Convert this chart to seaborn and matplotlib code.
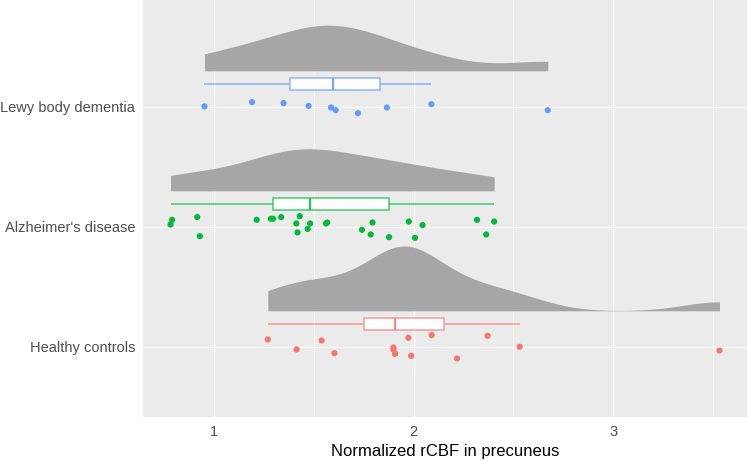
import numpy as np
import pandas as pd
import matplotlib.pyplot as plt
import seaborn as sns
from matplotlib.colors import to_rgba

# grupos y colores (orden de arriba hacia abajo)
groups = ["Lewy body dementia", "Alzheimer's disease", "Healthy controls"]
colors = ["#619CFF", "#00BA38", "#F8766D"]

# valores
lewy = [0.950, 1.189, 1.347, 1.472, 1.585, 1.608, 1.720, 1.865, 2.088, 2.672]
lewy_jit = [0.003, 0.039, 0.031, 0.008, -0.006, -0.028, -0.053, -0.006, 0.022, -0.028]

alz = [0.780, 0.788, 0.914, 0.927, 1.212, 1.283, 1.294, 1.335, 1.411, 1.417,
       1.428, 1.468, 1.480, 1.560, 1.566, 1.740, 1.784, 1.793, 1.876, 1.975,
       2.006, 2.044, 2.317, 2.363, 2.403]
alz_jit = [0.019, 0.058, 0.081, -0.078, 0.058, 0.067, 0.067, 0.081, 0.028, -0.047,
           0.089, -0.017, 0.028, 0.028, 0.036, -0.025, -0.064, 0.036, -0.086, 0.044,
           -0.092, 0.014, 0.058, -0.064, 0.044]

hc = [1.268, 1.412, 1.538, 1.602, 1.898, 1.898, 1.906, 1.906, 1.973, 1.987,
      2.090, 2.217, 2.370, 2.531, 3.533]
hc_jit = [0.061, -0.022, 0.053, -0.053, -0.006, -0.022, -0.058, -0.058, 0.075, -0.075,
          0.097, -0.097, 0.092, 0.000, -0.031]

values = [lewy, alz, hc]
jitter = [lewy_jit, alz_jit, hc_jit]
violin_height = [0.38, 0.35, 0.54]


def nrd0_adjust(v):
    # ajuste para imitar bw.nrd0 de R a partir de la regla de Scott
    v = np.asarray(v)
    sd = v.std(ddof=1)
    iqr = np.subtract(*np.percentile(v, [75, 25]))
    return 0.9 * min(sd, iqr / 1.34) / sd


sns.set_theme(style="darkgrid", rc={
    "axes.facecolor": "#EBEBEB",
    "grid.color": "white",
    "grid.linewidth": 0.8,
})
plt.rcParams["font.family"] = ["Liberation Sans", "DejaVu Sans"]

fig, ax = plt.subplots(figsize=(7.47, 4.61), dpi=100)
fig.subplots_adjust(left=143 / 747, right=1.0, top=1.0, bottom=1 - 417 / 461)

# medio violin (nube): la base plana queda en pos + width/2
for i, (vals, h) in enumerate(zip(values, violin_height)):
    d = pd.DataFrame({"value": vals, "pos": i - 0.3 - h / 2})
    sns.violinplot(data=d, x="value", y="pos", orient="y", native_scale=True,
                   split=True, inner=None, cut=0, density_norm="width",
                   width=h, bw_adjust=1.15 * nrd0_adjust(vals), color="#A6A6A6",
                   linewidth=0, ax=ax)

# boxplots
for i, (vals, c) in enumerate(zip(values, colors)):
    d = pd.DataFrame({"value": vals, "pos": i - 0.19})
    sns.boxplot(data=d, x="value", y="pos", orient="y", native_scale=True,
                width=0.094, color="white", linecolor=to_rgba(c, 0.7),
                linewidth=1.1, showfliers=False, capprops={"linewidth": 0},
                medianprops={"linewidth": 1.6, "color": to_rgba(c, 0.85)},
                ax=ax)

# puntos
pts = pd.DataFrame({
    "value": [v for vals in values for v in vals],
    "y": [i - j for i, jits in enumerate(jitter) for j in jits],
    "group": [g for g, vals in zip(groups, values) for _ in vals],
})
sns.scatterplot(data=pts, x="value", y="y", hue="group", hue_order=groups,
                palette=colors, s=20, linewidth=0, legend=False, ax=ax)

ax.set_xlim(0.642, 3.671)
ax.set_ylim(2.585, -0.89)
ax.set_yticks([0, 1, 2], groups)
ax.set_xticks([1, 2, 3])
ax.set_xticks([1.5, 2.5, 3.5], minor=True)
ax.grid(which="minor", axis="x", color="white", linewidth=0.4)
ax.set_axisbelow(True)
ax.tick_params(which="major", length=3.7, width=0.8, color="#333333",
               labelsize=10.5, labelcolor="#4D4D4D", pad=2)
ax.tick_params(which="minor", length=0)
sns.despine(left=True, bottom=True)
ax.set_xlabel("Normalized rCBF in precuneus", fontsize=12, color="black")
ax.set_ylabel("")

fig.savefig("out.png", dpi=100)
